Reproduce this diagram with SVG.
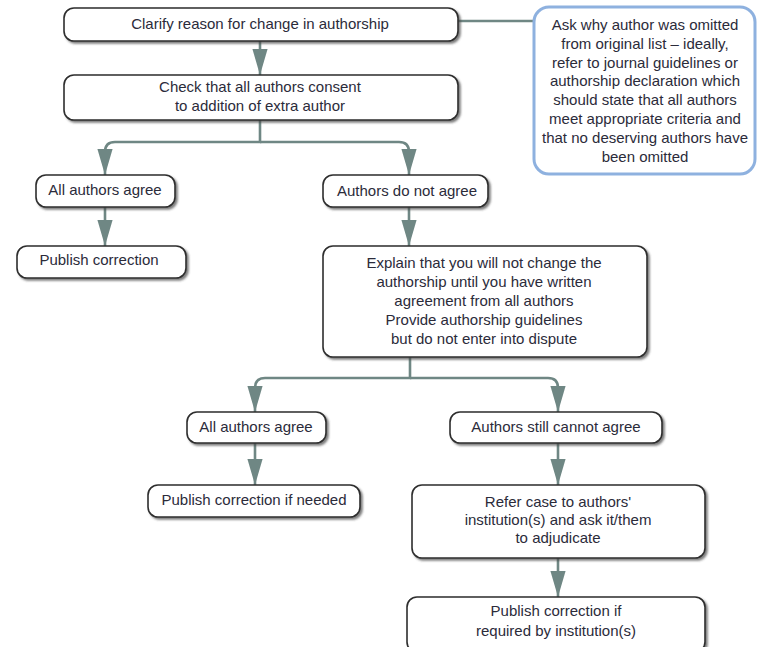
<svg xmlns="http://www.w3.org/2000/svg" width="757" height="647" viewBox="0 0 757 647">
<defs>
<filter id="sh" x="-10%" y="-20%" width="120%" height="150%">
<feDropShadow dx="2" dy="2" stdDeviation="1.2" flood-color="#444" flood-opacity="0.7"/>
</filter>
<marker id="ah" markerUnits="userSpaceOnUse" markerWidth="26" markerHeight="16" refX="24" refY="7" orient="auto" viewBox="0 0 24 14">
<path d="M0,0 L24,7 L0,14 Z" fill="#6f8784"/>
</marker>
</defs>
<style>
.box{fill:#fff;stroke:#2e2e2e;stroke-width:1.6;filter:url(#sh)}
.note{fill:#fff;stroke:#8eb1df;stroke-width:3}
.c{fill:none;stroke:#6f8784;stroke-width:2.6}
text{font-family:"Liberation Sans",Arial,Helvetica,sans-serif;font-size:15px;fill:#2b2b3a;text-anchor:middle}
</style>
<rect width="757" height="647" fill="#fff"/>
<g id="connectors">
<line class="c" x1="458" y1="21" x2="533" y2="21"/>
<line class="c" x1="260" y1="41" x2="260" y2="75" marker-end="url(#ah)"/>
<path class="c" d="M260,120 V142 H115 Q105,142 105,152 V175" marker-end="url(#ah)"/>
<path class="c" d="M260,142 H399 Q409,142 409,152 V175" marker-end="url(#ah)"/>
<line class="c" x1="105" y1="207" x2="105" y2="246" marker-end="url(#ah)"/>
<line class="c" x1="409" y1="207" x2="409" y2="246" marker-end="url(#ah)"/>
<path class="c" d="M410,357 V378 H265 Q255,378 255,388 V412" marker-end="url(#ah)"/>
<path class="c" d="M410,378 H548 Q558,378 558,388 V412" marker-end="url(#ah)"/>
<line class="c" x1="255" y1="443" x2="255" y2="485" marker-end="url(#ah)"/>
<line class="c" x1="558" y1="443" x2="558" y2="485" marker-end="url(#ah)"/>
<line class="c" x1="558" y1="558" x2="558" y2="597" marker-end="url(#ah)"/>
</g>
<g id="n1"><rect class="box" x="64" y="8" width="394" height="33" rx="10"/><text x="260" y="29">Clarify reason for change in authorship</text></g>
<g id="n2"><rect class="box" x="64" y="75" width="394" height="45" rx="10"/><text x="260" y="92">Check that all authors consent</text><text x="260" y="111">to addition of extra author</text></g>
<g id="note"><rect class="note" x="534" y="7" width="221" height="167" rx="15"/>
<text x="645" y="30">Ask why author was omitted</text>
<text x="645" y="49">from original list – ideally,</text>
<text x="645" y="68">refer to journal guidelines or</text>
<text x="645" y="86">authorship declaration which</text>
<text x="645" y="105">should state that all authors</text>
<text x="645" y="124">meet appropriate criteria and</text>
<text x="645" y="143">that no deserving authors have</text>
<text x="645" y="162">been omitted</text></g>
<g id="n3"><rect class="box" x="36" y="175" width="139" height="32" rx="10"/><text x="105" y="195">All authors agree</text></g>
<g id="n4"><rect class="box" x="323" y="175" width="165" height="32" rx="10"/><text x="407" y="196">Authors do not agree</text></g>
<g id="n5"><rect class="box" x="17" y="246" width="169" height="32" rx="10"/><text x="99" y="265">Publish correction</text></g>
<g id="n6"><rect class="box" x="323" y="246" width="324" height="111" rx="10"/>
<text x="484" y="268">Explain that you will not change the</text>
<text x="484" y="287">authorship until you have written</text>
<text x="484" y="306">agreement from all authors</text>
<text x="484" y="325">Provide authorship guidelines</text>
<text x="484" y="344">but do not enter into dispute</text></g>
<g id="n7"><rect class="box" x="187" y="412" width="139" height="31" rx="10"/><text x="256" y="432">All authors agree</text></g>
<g id="n8"><rect class="box" x="450" y="412" width="212" height="31" rx="10"/><text x="556" y="432">Authors still cannot agree</text></g>
<g id="n9"><rect class="box" x="148" y="485" width="212" height="32" rx="10"/><text x="254" y="505">Publish correction if needed</text></g>
<g id="n10"><rect class="box" x="412" y="485" width="293" height="73" rx="10"/>
<text x="558" y="507">Refer case to authors'</text>
<text x="558" y="525">institution(s) and ask it/them</text>
<text x="558" y="543">to adjudicate</text></g>
<g id="n11"><rect class="box" x="407" y="597" width="298" height="55" rx="10"/>
<text x="556" y="616">Publish correction if</text>
<text x="556" y="636">required by institution(s)</text></g>
</svg>
